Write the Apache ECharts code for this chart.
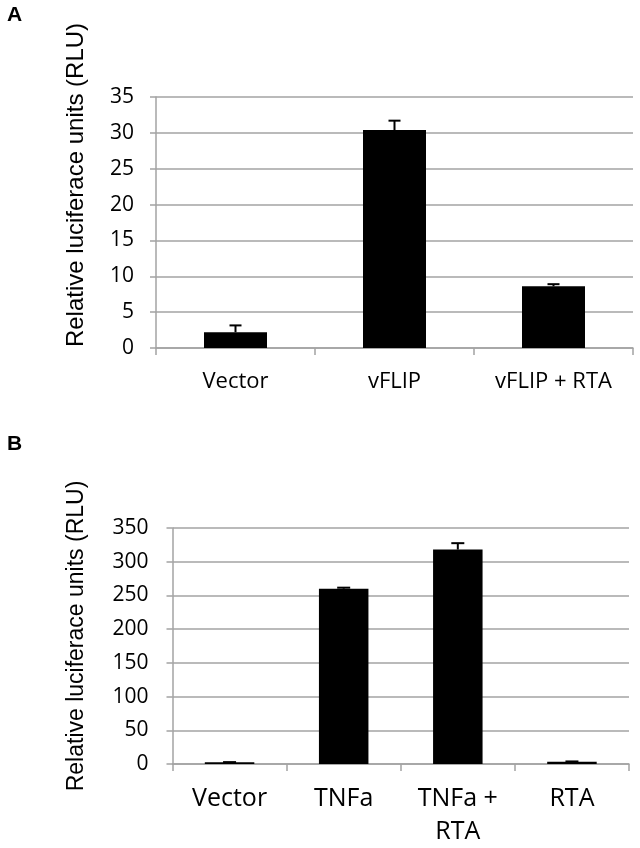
<!DOCTYPE html>
<html>
<head>
<meta charset="utf-8">
<script src="https://cdn.jsdelivr.net/npm/echarts@6/dist/echarts.min.js"></script>
<style>
html,body{margin:0;padding:0;background:#fff;}
#chart{width:640px;height:848px;}
</style>
</head>
<body>
<div id="chart"></div>
<script>
// Panel A data
var categoriesA = ['Vector', 'vFLIP', 'vFLIP + RTA'];
var valuesA = [2.2, 30.4, 8.6];
var errorsA = [0.95, 1.3, 0.3];
var ticksA = [0, 5, 10, 15, 20, 25, 30, 35];

// Panel B data
var categoriesB = ['Vector', 'TNFa', 'TNFa +\nRTA', 'RTA'];
var valuesB = [2.5, 260, 318, 3.5];
var errorsB = [0.3, 1.5, 9.5, 0.3];
var ticksB = [0, 50, 100, 150, 200, 250, 300, 350];

var yTitle = 'Relative luciferace units (RLU)';
var panelLabels = ['A', 'B'];

var chart = echarts.init(document.getElementById('chart'));

var GRID_COLOR = '#a3a3a3';
var TICK_FONT = '"Open Sans", sans-serif';
var TITLE_FONT = '"Liberation Sans", Arial, sans-serif';

function errData(vals, errs) {
  return vals.map(function (v, i) { return [i, v, errs[i]]; });
}

function errRender(capHalf) {
  return function (params, api) {
    var x = api.value(0), v = api.value(1), e = api.value(2);
    var p0 = api.coord([x, v]);
    var p1 = api.coord([x, v + e]);
    var st = { stroke: '#000', lineWidth: 2 };
    return {
      type: 'group',
      children: [
        { type: 'line', shape: { x1: p0[0], y1: p0[1], x2: p1[0], y2: p1[1] }, style: st },
        { type: 'line', shape: { x1: p1[0] - capHalf, y1: p1[1], x2: p1[0] + capHalf, y2: p1[1] }, style: st }
      ]
    };
  };
}

function yAxisCfg(gridIndex, ticks, margin) {
  return {
    type: 'value', gridIndex: gridIndex,
    min: ticks[0], max: ticks[ticks.length - 1], interval: ticks[1] - ticks[0],
    axisLine: { show: true, lineStyle: { color: GRID_COLOR, width: 1.5 } },
    axisTick: { show: true, length: 6, lineStyle: { color: GRID_COLOR, width: 1.5 } },
    splitLine: { show: true, lineStyle: { color: GRID_COLOR, width: 1.5 } },
    axisLabel: { color: '#000', fontFamily: TICK_FONT, fontSize: 21, margin: margin }
  };
}

function xAxisCfg(gridIndex, cats, fontSize, margin, lineHeight) {
  return {
    type: 'category', gridIndex: gridIndex, data: cats,
    axisLine: { show: true, lineStyle: { color: GRID_COLOR, width: 1.5 } },
    axisTick: { show: true, length: 7, alignWithLabel: false, lineStyle: { color: GRID_COLOR, width: 1.5 } },
    axisLabel: { color: '#000', fontFamily: TICK_FONT, fontSize: fontSize, margin: margin, lineHeight: lineHeight, interval: 0 }
  };
}

var option = {
  animation: false,
  backgroundColor: '#fff',
  grid: [
    { left: 156, right: 7, top: 97, height: 251 },
    { left: 172.5, right: 11, top: 528, height: 242 }
  ],
  xAxis: [
    xAxisCfg(0, categoriesA, 22, 21, 26),
    xAxisCfg(1, categoriesB, 25, 18, 33)
  ],
  yAxis: [
    yAxisCfg(0, ticksA, 22),
    yAxisCfg(1, ticksB, 24)
  ],
  series: [
    { type: 'bar', xAxisIndex: 0, yAxisIndex: 0, data: valuesA, barWidth: 63, itemStyle: { color: '#000' } },
    { type: 'custom', xAxisIndex: 0, yAxisIndex: 0, data: errData(valuesA, errorsA), renderItem: errRender(6), z: 5 },
    { type: 'bar', xAxisIndex: 1, yAxisIndex: 1, data: valuesB, barWidth: 49.5, itemStyle: { color: '#000' } },
    { type: 'custom', xAxisIndex: 1, yAxisIndex: 1, data: errData(valuesB, errorsB), renderItem: errRender(6.5), z: 5 }
  ],
  graphic: [
    { type: 'text', x: 76, y: 185, rotation: Math.PI / 2,
      style: { text: yTitle, font: '24px ' + TITLE_FONT, fill: '#000', align: 'center', verticalAlign: 'middle' } },
    { type: 'text', x: 77, y: 636, rotation: Math.PI / 2,
      style: { text: yTitle, font: '23px ' + TITLE_FONT, fill: '#000', align: 'center', verticalAlign: 'middle' } },
    { type: 'text', x: 7, y: 5,
      style: { text: panelLabels[0], font: 'bold 21px ' + TITLE_FONT, fill: '#000', align: 'left', verticalAlign: 'top' } },
    { type: 'text', x: 7, y: 434,
      style: { text: panelLabels[1], font: 'bold 21px ' + TITLE_FONT, fill: '#000', align: 'left', verticalAlign: 'top' } }
  ]
};

chart.setOption(option);
</script>
</body>
</html>
